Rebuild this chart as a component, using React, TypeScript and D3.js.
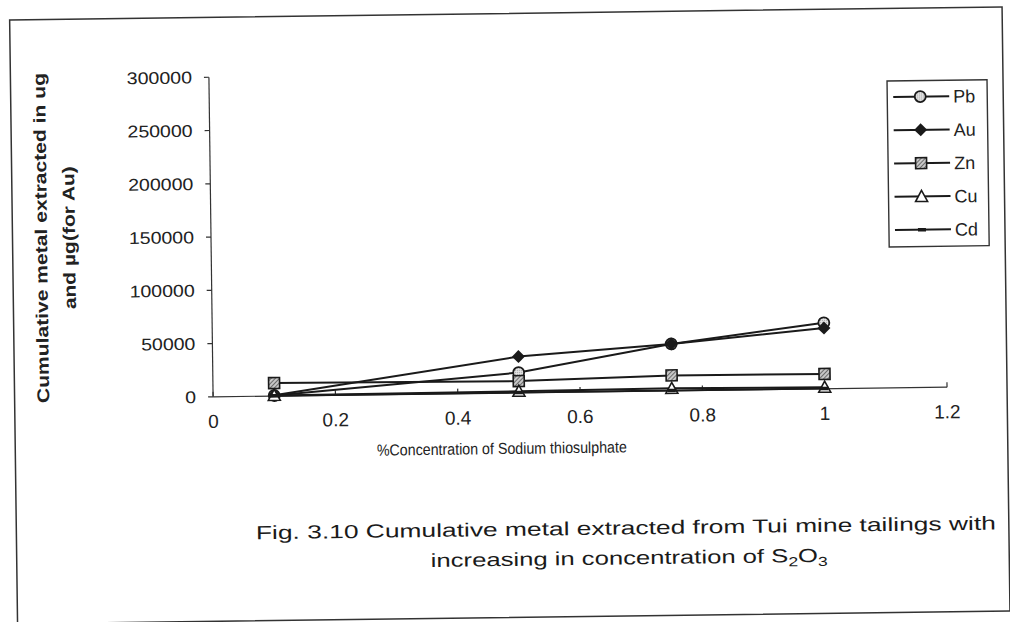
import React from 'react';
import * as d3 from 'd3';

// ---- data ----
const concentrations = [0.1, 0.5, 0.75, 1];
const pbValues = [500, 19000, 44000, 62000];
const auValues = [800, 34000, 44000, 57000];
const znValues = [12200, 11000, 14500, 14000];
const cuValues = [600, 1500, 2300, 1500];
const cdValues = [200, 300, 300, 300];
const seriesNames = ['Pb', 'Au', 'Zn', 'Cu', 'Cd'];
const seriesValues = [pbValues, auValues, znValues, cuValues, cdValues];
const yTicks = [0, 50000, 100000, 150000, 200000, 250000, 300000];
const xTicks = [0, 0.2, 0.4, 0.6, 0.8, 1, 1.2];

const FONT = '"Liberation Sans", Arial, sans-serif';
const INK = '#1a1a1a';

function Marker({ name, cx, cy }: { name: string; cx: number; cy: number }) {
  if (name === 'Pb')
    return <circle cx={cx} cy={cy} r={5.5} fill="url(#dots)" stroke={INK} strokeWidth={1.8} />;
  if (name === 'Au')
    return (
      <path
        transform={`translate(${cx},${cy})`}
        d="M0,-6.5 L6.5,0 L0,6.5 L-6.5,0 Z"
        fill={INK}
      />
    );
  if (name === 'Zn')
    return <rect x={cx - 5.5} y={cy - 5.5} width={11} height={11} fill="url(#hatch)" stroke={INK} strokeWidth={1.6} />;
  if (name === 'Cu')
    return (
      <path
        transform={`translate(${cx},${cy})`}
        d="M0,-6 L6,5 L-6,5 Z"
        fill="white"
        stroke={INK}
        strokeWidth={1.6}
      />
    );
  return <rect x={cx - 4} y={cy - 1.8} width={8} height={3.6} fill={INK} />;
}

export default function App() {
  const x = d3.scaleLinear().domain([0, 1.2]).range([212, 946]);
  const y = d3.scaleLinear().domain([0, 300000]).range([393, 73.4]);
  const line = d3
    .line<number>()
    .x((_, i) => x(concentrations[i]))
    .y((d) => y(d));

  const legend = { x: 890, y: 86, w: 100, h: 166 };

  return (
    <svg
      width={1010}
      height={622}
      style={{ position: 'absolute', left: 0, top: 0, background: 'white' }}
      fontFamily={FONT}
    >
      <defs>
        <pattern id="hatch" width="3" height="3" patternUnits="userSpaceOnUse" patternTransform="rotate(45)">
          <rect width="3" height="3" fill="#c8c8c8" />
          <line x1="0" y1="0" x2="0" y2="3" stroke="#444" strokeWidth="1.4" />
        </pattern>
        <pattern id="dots" width="2" height="2" patternUnits="userSpaceOnUse">
          <rect width="2" height="2" fill="#e6e6e6" />
          <rect width="1" height="1" fill="#9a9a9a" />
        </pattern>
      </defs>
      <rect width={1010} height={622} fill="white" />
      <g transform="rotate(-0.75 505 311)">
        {/* outer frame */}
        <rect x={13.5} y={13.5} width={992.5} height={604} fill="none" stroke="#333" strokeWidth={1.5} />

        {/* y axis */}
        <line x1={x(0)} x2={x(0)} y1={y(0)} y2={y(300000)} stroke="#333" strokeWidth={1.2} />
        {yTicks.map((t) => (
          <g key={'y' + t}>
            <line x1={x(0) - 5} x2={x(0)} y1={y(t)} y2={y(t)} stroke="#333" strokeWidth={1.2} />
            <text
              transform={`translate(195,${y(t) + 6}) scale(1.15,1)`}
              textAnchor="end"
              fontSize={17}
              fill="#222"
            >
              {t}
            </text>
          </g>
        ))}

        {/* x axis */}
        <line x1={x(0)} x2={x(1.2)} y1={y(0)} y2={y(0)} stroke="#333" strokeWidth={1.2} />
        {xTicks.map((t) => (
          <g key={'x' + t}>
            <line x1={x(t)} x2={x(t)} y1={y(0)} y2={y(0) - 5} stroke="#333" strokeWidth={1.2} />
            <text x={x(t)} y={424} textAnchor="middle" fontSize={19} fill="#222">
              {t}
            </text>
          </g>
        ))}

        {/* series */}
        {seriesNames.map((name, si) => (
          <g key={name}>
            <path d={line(seriesValues[si]) || ''} fill="none" stroke={INK} strokeWidth={2} />
            {seriesValues[si].map((v, i) => (
              <Marker key={i} name={name} cx={x(concentrations[i])} cy={y(v)} />
            ))}
          </g>
        ))}

        {/* y title */}
        <g transform="translate(48,232) rotate(-90)">
          <text
            x={0}
            y={0}
            textAnchor="middle"
            fontSize={17}
            fontWeight="bold"
            fill="#222"
            textLength={330}
            lengthAdjust="spacingAndGlyphs"
          >
            Cumulative metal extracted in ug
          </text>
          <text
            x={0}
            y={28}
            textAnchor="middle"
            fontSize={17}
            fontWeight="bold"
            fill="#222"
            textLength={143}
            lengthAdjust="spacingAndGlyphs"
          >
            and µg(for Au)
          </text>
        </g>

        {/* x title */}
        <text
          x={500}
          y={454}
          textAnchor="middle"
          fontSize={16}
          fill="#222"
          textLength={250}
          lengthAdjust="spacingAndGlyphs"
        >
          %Concentration of Sodium thiosulphate
        </text>

        {/* legend */}
        <rect x={legend.x} y={legend.y} width={legend.w} height={legend.h} fill="white" stroke="#333" strokeWidth={1.4} />
        {seriesNames.map((name, i) => {
          const cy = legend.y + 16 + i * 33.3;
          return (
            <g key={'lg' + name}>
              <line x1={legend.x + 6} x2={legend.x + 62} y1={cy} y2={cy} stroke={INK} strokeWidth={2} />
              <Marker name={name} cx={legend.x + 33} cy={cy} />
              <text x={legend.x + 66} y={cy + 6.5} fontSize={18} fill="#222">
                {name}
              </text>
            </g>
          );
        })}

        {/* caption */}
        <text
          x={623}
          y={536}
          textAnchor="middle"
          fontSize={19}
          fill="#1a1a1a"
          textLength={740}
          lengthAdjust="spacingAndGlyphs"
        >
          Fig. 3.10 Cumulative metal extracted from Tui mine tailings with
        </text>
        <text
          x={626}
          y={566}
          textAnchor="middle"
          fontSize={19}
          fill="#1a1a1a"
          textLength={397}
          lengthAdjust="spacingAndGlyphs"
        >
          increasing in concentration of S
          <tspan fontSize={13} dy={4}>2</tspan>
          <tspan dy={-4}>O</tspan>
          <tspan fontSize={13} dy={4}>3</tspan>
        </text>
      </g>
    </svg>
  );
}
